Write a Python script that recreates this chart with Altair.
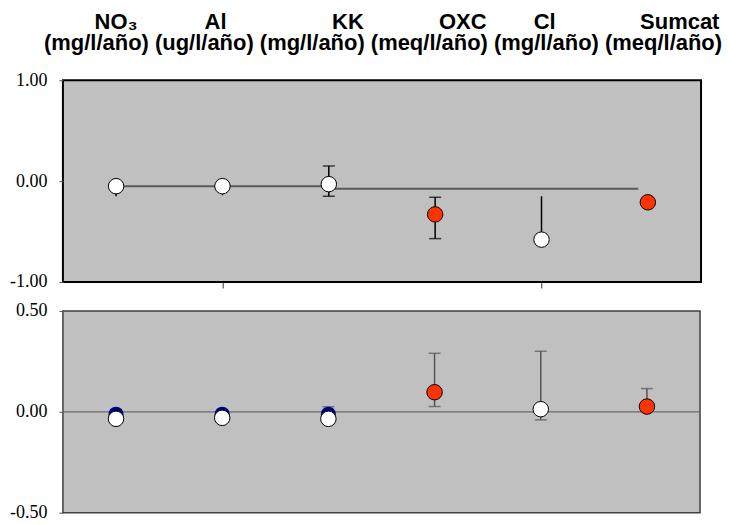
import altair as alt
import pandas as pd

# ---- data ----
cats = ["NO₃", "Al", "KK", "OXC", "Cl", "Sumcat"]
units = ["(mg/l/año)", "(ug/l/año)", "(mg/l/año)", "(meq/l/año)", "(mg/l/año)", "(meq/l/año)"]
name_pos = [0.0, 0.935, 2.18, 3.26, 4.03, 5.30]   # header label centres (category units)
units_pos = 2.51                                   # centre of the units line

# top panel
top_val = [-0.05, -0.05, -0.03, -0.33, -0.58, -0.21]
top_kind = ["white", "white", "white", "red", "white", "red"]
top_lo = [-0.15, -0.14, -0.15, -0.57, None, None]
top_hi = [None, None, 0.15, -0.16, -0.15, None]
top_cap_lo = [None, None, -0.15, -0.57, None, None]
top_cap_hi = [None, None, 0.15, -0.16, None, None]
line1_x = [0, 2]
line1_y = [-0.05, -0.05]
line2_x = [2, 4.91]
line2_y = [-0.075, -0.075]

# bottom panel
bot_blue = [-0.012, -0.012, -0.012, None, None, None]
bot_val = [-0.035, -0.03, -0.035, 0.097, 0.013, 0.026]
bot_kind = ["white", "white", "white", "red", "white", "red"]
bot_lo = [None, None, None, 0.026, -0.04, None]
bot_hi = [None, None, 0.025, 0.29, 0.30, 0.115]

RED = "#FF3300"
GRAY_BG = "#C0C0C0"
SERIF = "Liberation Serif"
SANS = "Liberation Sans"
MINUS_FIX = "replace(datum.label, '\u2212', '-')"

XS = alt.Scale(domain=[-0.5, 5.5], nice=False, zero=False)


def xenc(axis=None):
    if axis is None:
        return alt.X("x:Q", scale=XS, axis=None, title=None)
    return alt.X("x:Q", scale=XS, axis=axis, title=None)


def panel(vals, kinds, lo, hi, caps_lo, caps_hi, ydomain, yticks, err_color,
          blue=None, extra_layers=None, x_axis=None, header=False):
    ys = alt.Scale(domain=ydomain, nice=False, zero=False)
    yaxis = alt.Axis(values=yticks, format=".2f", labelExpr=MINUS_FIX, grid=False,
                     domain=False, tickSize=4, tickColor="#555555", labelPadding=12,
                     labelFont=SERIF, labelFontSize=18, labelColor="black")
    Y = lambda f: alt.Y(f"{f}:Q", scale=ys, axis=yaxis, title=None)

    layers = []
    if extra_layers:
        layers += extra_layers(Y)

    # error bar stems
    rows = []
    for i, v in enumerate(vals):
        if lo[i] is None and hi[i] is None:
            continue
        a = lo[i] if lo[i] is not None else v
        b = hi[i] if hi[i] is not None else v
        rows.append({"x": i, "y": a, "y2": b})
    if rows:
        layers.append(alt.Chart(pd.DataFrame(rows)).mark_rule(
            color=err_color, strokeWidth=1.5).encode(
            x=xenc(x_axis), y=Y("y"), y2="y2:Q"))
    caps = []
    for i in range(len(vals)):
        for c in (caps_lo[i], caps_hi[i]):
            if c is not None:
                caps.append({"x": i, "y": c})
    if caps:
        layers.append(alt.Chart(pd.DataFrame(caps)).mark_tick(
            orient="horizontal", size=12, thickness=1.5, color=err_color).encode(
            x=xenc(x_axis), y=Y("y")))

    if blue is not None:
        bd = pd.DataFrame([{"x": i, "y": b} for i, b in enumerate(blue) if b is not None])
        layers.append(alt.Chart(bd).mark_point(
            shape="circle", filled=True, size=230, color="#000080", opacity=1).encode(
            x=xenc(x_axis), y=Y("y")))

    pdf = pd.DataFrame({"x": list(range(len(vals))), "y": vals, "kind": kinds})
    layers.append(alt.Chart(pdf).mark_point(
        shape="circle", filled=True, size=240, stroke="black", strokeWidth=1,
        opacity=1).encode(
        x=xenc(x_axis), y=Y("y"),
        fill=alt.Fill("kind:N", scale=alt.Scale(domain=["white", "red"],
                                                range=["white", RED]), legend=None)))

    if header:
        hd = pd.DataFrame({"x": name_pos, "t": cats})
        layers.append(alt.Chart(hd).mark_text(
            font=SANS, fontSize=22, fontWeight="bold", color="black",
            baseline="alphabetic", align="center").encode(
            x=xenc(x_axis), y=alt.value(-51), text="t:N"))
        ud = pd.DataFrame({"x": [units_pos], "t": [" ".join(units)]})
        layers.append(alt.Chart(ud).mark_text(
            font=SANS, fontSize=22, fontWeight="bold", color="black",
            baseline="alphabetic", align="center").encode(
            x=xenc(x_axis), y=alt.value(-30.5), text="t:N"))
    return layers


top_axis = alt.Axis(values=[1, 4], labels=False, domain=False, grid=False,
                    ticks=True, tickSize=6, tickColor="#333333")


def top_lines(Y):
    l1 = pd.DataFrame({"x": line1_x, "y": line1_y})
    l2 = pd.DataFrame({"x": line2_x, "y": line2_y})
    return [
        alt.Chart(l1).mark_line(color="#5a5a5a", strokeWidth=2).encode(
            x=xenc(top_axis), y=Y("y")),
        alt.Chart(l2).mark_line(color="#5a5a5a", strokeWidth=2).encode(
            x=xenc(top_axis), y=Y("y")),
    ]


def bot_zero(Y):
    z = pd.DataFrame({"y": [0.0]})
    return [alt.Chart(z).mark_rule(color="#6a6a6a", strokeWidth=1.2).encode(y=Y("y"))]


top = alt.layer(*panel(top_val, top_kind, top_lo, top_hi, top_cap_lo, top_cap_hi,
                       [-1, 1], [-1, 0, 1], "black", extra_layers=top_lines,
                       x_axis=top_axis, header=True)).properties(
    width=639, height=202,
    view=alt.ViewBackground(fill=GRAY_BG, stroke="black", strokeWidth=2))

bot_caps_lo = bot_lo
bot_caps_hi = bot_hi
bottom = alt.layer(*panel(bot_val, bot_kind, bot_lo, bot_hi, bot_caps_lo, bot_caps_hi,
                          [-0.5, 0.5], [-0.5, 0, 0.5], "#555555", blue=bot_blue,
                          extra_layers=bot_zero)).properties(
    width=638, height=202,
    view=alt.ViewBackground(fill=GRAY_BG, stroke="#404040", strokeWidth=1.5))

chart = alt.vconcat(top, bottom, spacing=9).properties(
    padding={"left": 0, "top": 2, "right": 0, "bottom": 0}
).configure_view(fill=GRAY_BG)

chart.save("out.html", embed_options={"renderer": "svg", "actions": False})
